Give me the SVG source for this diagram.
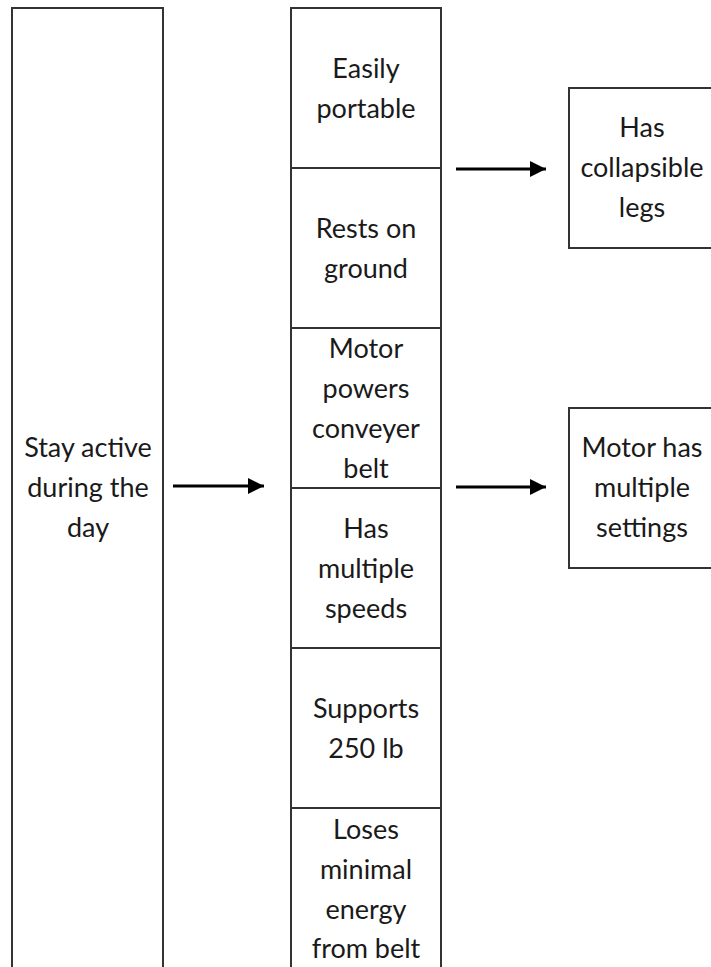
<svg xmlns="http://www.w3.org/2000/svg" width="711" height="967" viewBox="0 0 711 967">
<style>
.box{fill:#fff;stroke:#333;stroke-width:2}
.t{font-family:Lato,"Open Sans","Liberation Sans",sans-serif;font-size:27px;fill:#1a1a1a;text-anchor:middle}
.c{stroke:#000;stroke-width:3;fill:none}
</style>
<defs>
<marker id="ah" viewBox="0 0 16 16" refX="16" refY="8" markerWidth="16" markerHeight="16" markerUnits="userSpaceOnUse" orient="auto">
<path d="M0,0 L16,8 L0,16 z" fill="#000"/>
</marker>
</defs>
<rect width="711" height="967" fill="#fff"/>
<g id="goal">
<rect class="box" x="12" y="8" width="151" height="975"/>
<text class="t" x="88" y="457">Stay active</text>
<text class="t" x="88" y="497">during the</text>
<text class="t" x="88" y="537">day</text>
</g>
<g id="f1">
<rect class="box" x="291" y="8" width="150" height="160"/>
<text class="t" x="366" y="78">Easily</text>
<text class="t" x="366" y="118">portable</text>
</g>
<g id="f2">
<rect class="box" x="291" y="168" width="150" height="160"/>
<text class="t" x="366" y="238">Rests on</text>
<text class="t" x="366" y="278">ground</text>
</g>
<g id="f3">
<rect class="box" x="291" y="328" width="150" height="160"/>
<text class="t" x="366" y="358">Motor</text>
<text class="t" x="366" y="398">powers</text>
<text class="t" x="366" y="438">conveyer</text>
<text class="t" x="366" y="478">belt</text>
</g>
<g id="f4">
<rect class="box" x="291" y="488" width="150" height="160"/>
<text class="t" x="366" y="538">Has</text>
<text class="t" x="366" y="578">multiple</text>
<text class="t" x="366" y="618">speeds</text>
</g>
<g id="f5">
<rect class="box" x="291" y="648" width="150" height="160"/>
<text class="t" x="366" y="718">Supports</text>
<text class="t" x="366" y="758">250 lb</text>
</g>
<g id="f6">
<rect class="box" x="291" y="808" width="150" height="175"/>
<text class="t" x="366" y="839">Loses</text>
<text class="t" x="366" y="879">minimal</text>
<text class="t" x="366" y="919">energy</text>
<text class="t" x="366" y="958">from belt</text>
</g>
<g id="r1">
<rect class="box" x="569" y="88" width="148" height="160"/>
<text class="t" x="642" y="137">Has</text>
<text class="t" x="642" y="177">collapsible</text>
<text class="t" x="642" y="217">legs</text>
</g>
<g id="r2">
<rect class="box" x="569" y="408" width="148" height="160"/>
<text class="t" x="642" y="457">Motor has</text>
<text class="t" x="642" y="497">multiple</text>
<text class="t" x="642" y="537">settings</text>
</g>
<g id="connectors">
<line class="c" x1="173" y1="486" x2="264" y2="486" marker-end="url(#ah)"/>
<line class="c" x1="456" y1="169" x2="546" y2="169" marker-end="url(#ah)"/>
<line class="c" x1="456" y1="487" x2="546" y2="487" marker-end="url(#ah)"/>
</g>
</svg>
